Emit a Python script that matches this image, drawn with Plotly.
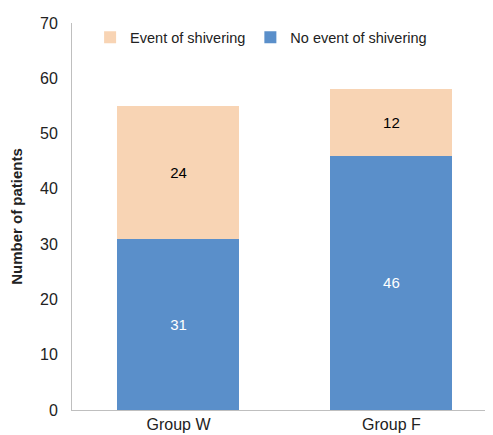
import plotly.graph_objects as go

groups = ["Group W", "Group F"]
no_event = [31, 46]
event = [24, 12]
y_ticks = [0, 10, 20, 30, 40, 50, 60, 70]

fig = go.Figure()
fig.add_trace(go.Bar(
    x=groups, y=no_event, name="No event of shivering",
    marker=dict(color="#5a8fca", line=dict(width=0)),
    text=no_event, textposition="inside", insidetextanchor="middle",
    textfont=dict(color="white", size=15, family="Liberation Sans"),
    width=0.573,
))
fig.add_trace(go.Bar(
    x=groups, y=event, name="Event of shivering",
    marker=dict(color="#f8d4b4", line=dict(width=0)),
    text=event, textposition="inside", insidetextanchor="middle",
    textfont=dict(color="black", size=15, family="Liberation Sans"),
    width=0.573,
))

fig.update_layout(
    barmode="stack",
    width=485, height=427,
    margin=dict(l=64, r=0, t=15, b=25),
    paper_bgcolor="white", plot_bgcolor="white",
    font=dict(family="Liberation Sans", size=15, color="#222222"),
    showlegend=True,
    legend=dict(
        orientation="h", traceorder="reversed",
        x=0.043, y=0.963, xanchor="left", yanchor="middle",
        font=dict(size=14.5, family="Liberation Sans", color="#222222"),
        bgcolor="rgba(0,0,0,0)",
    ),
    xaxis=dict(
        range=[-0.5, 1.477], showgrid=False,
        showline=True, linecolor="#bfbfbf", linewidth=1,
        ticks="", tickfont=dict(size=16),
    ),
    yaxis=dict(
        range=[0, 70], tickvals=y_ticks, showgrid=False,
        showline=True, linecolor="#bfbfbf", linewidth=1,
        ticks="", ticklen=0, tickfont=dict(size=16),
        ticklabelstandoff=10,
        title=dict(text="<b>Number of patients</b>", font=dict(size=15), standoff=18),
        zeroline=False,
    ),
)

fig.write_html("out.html")
